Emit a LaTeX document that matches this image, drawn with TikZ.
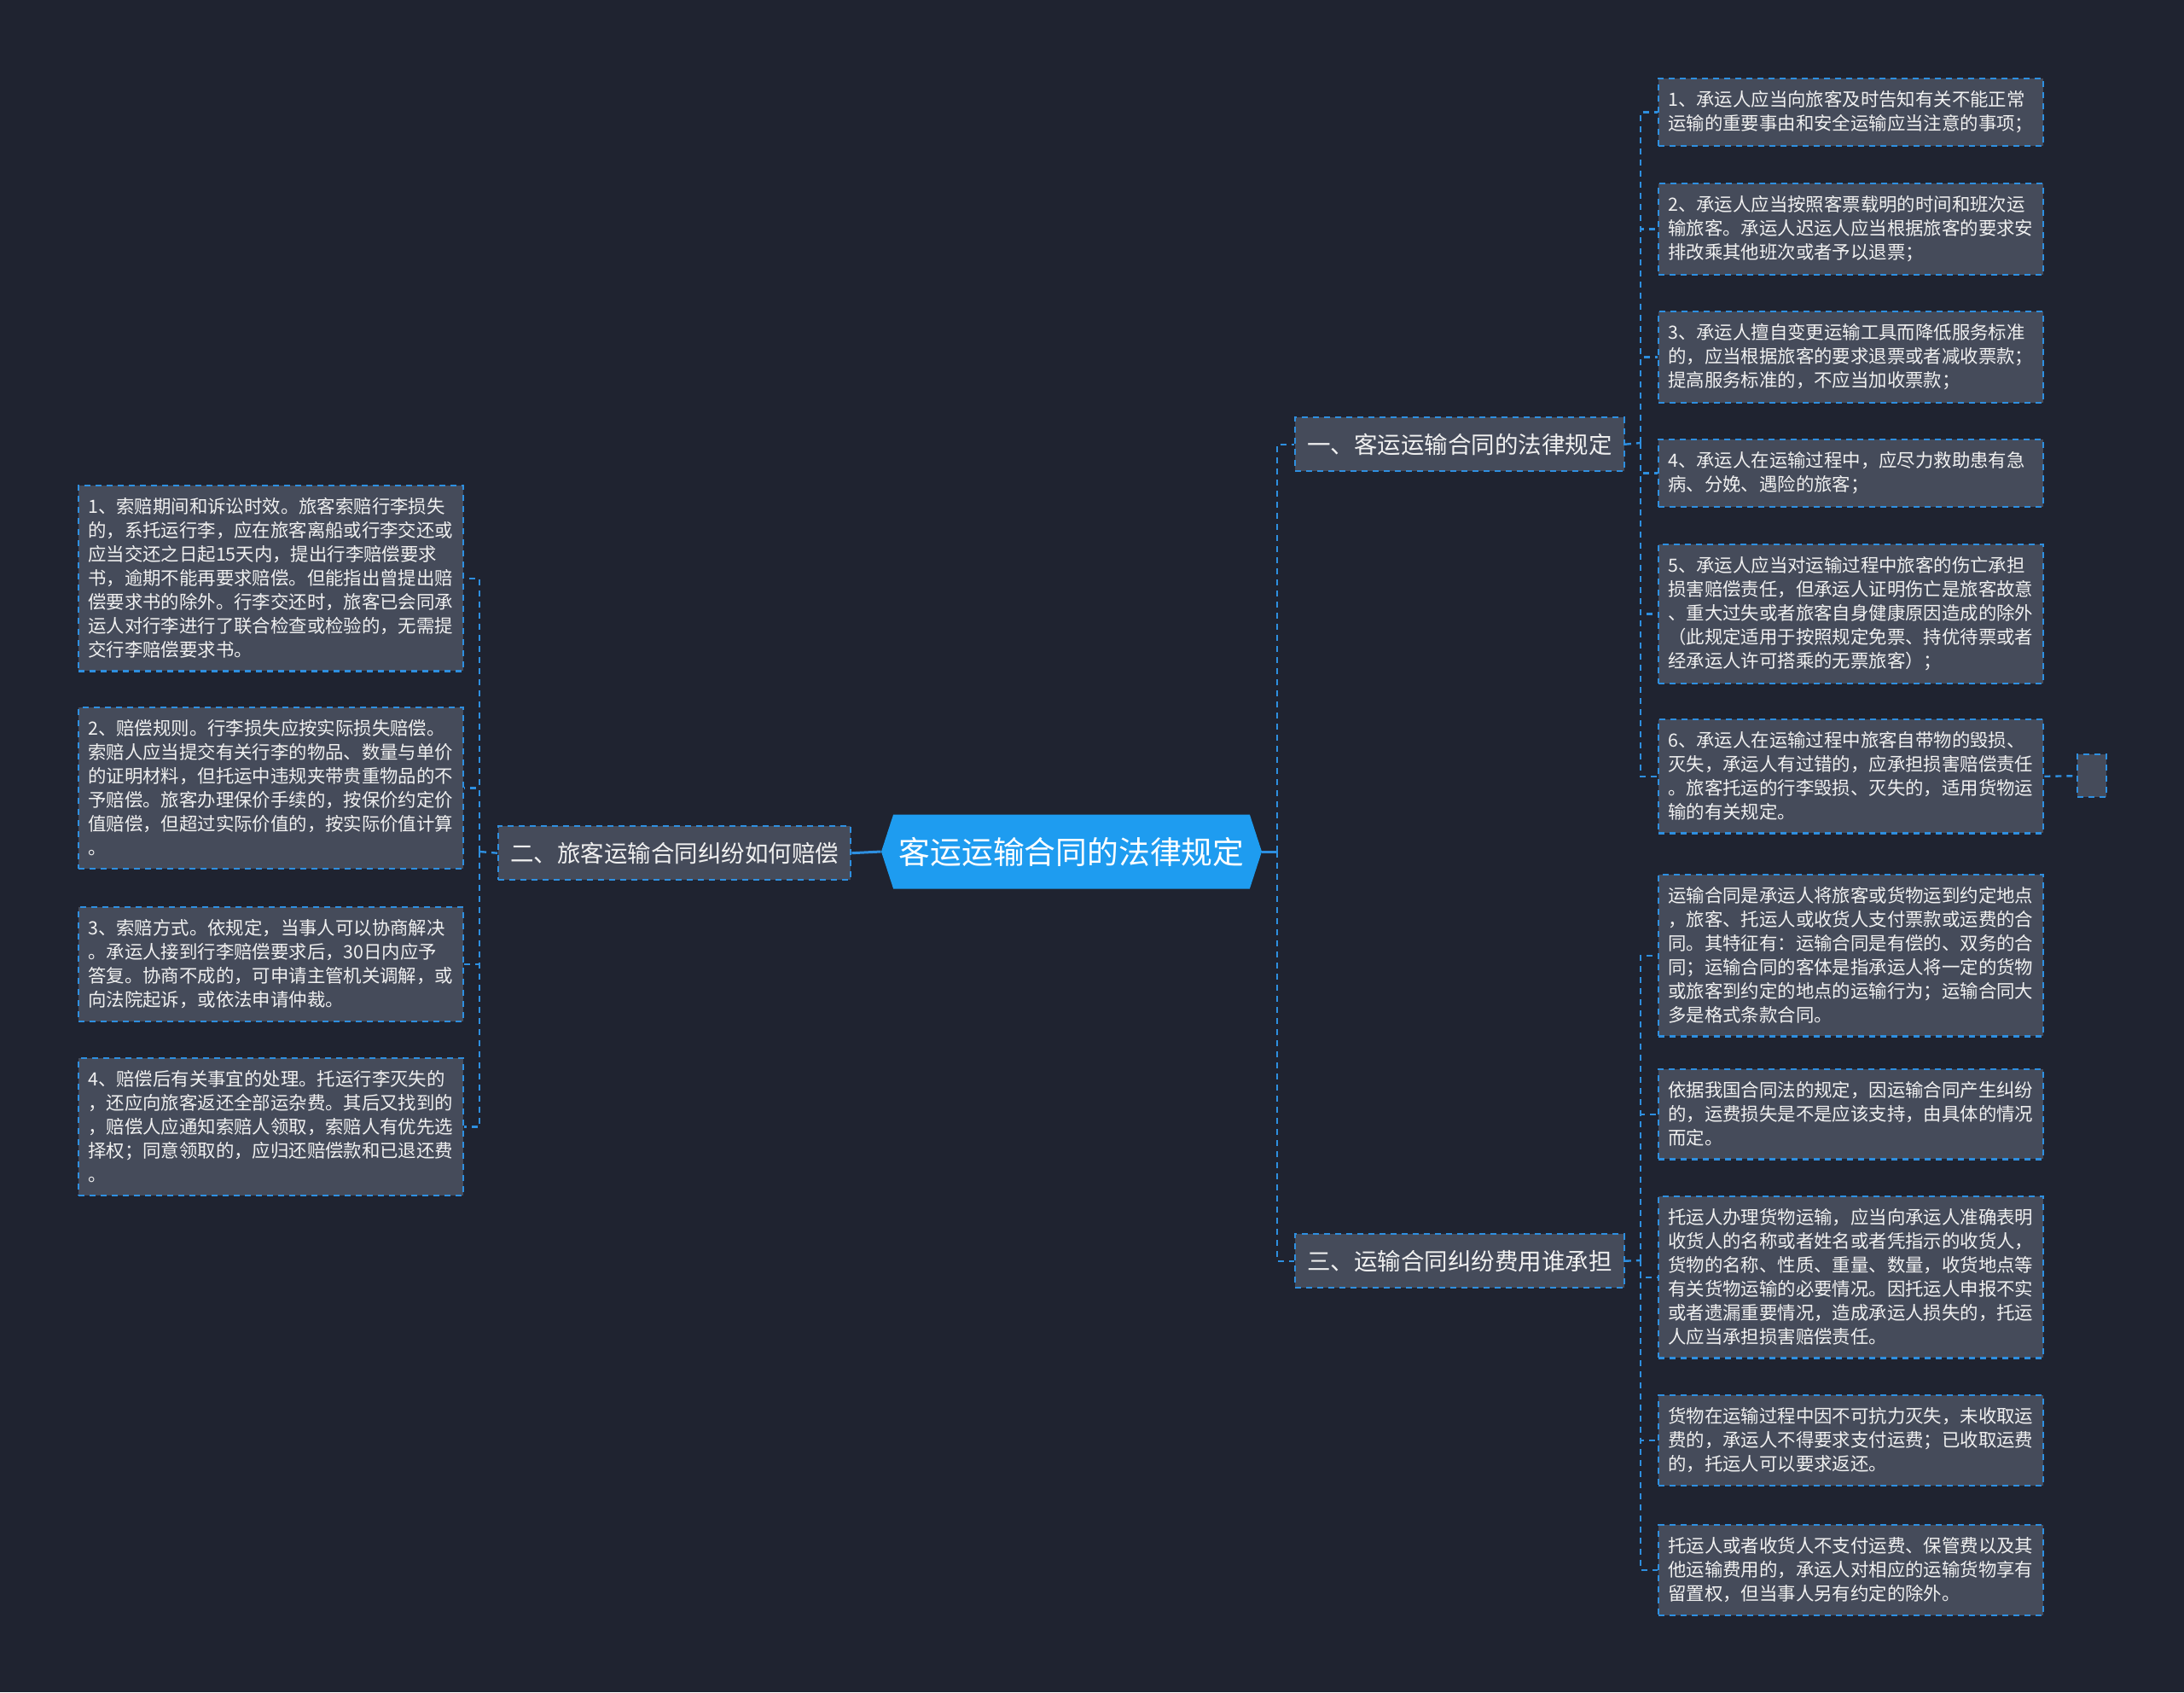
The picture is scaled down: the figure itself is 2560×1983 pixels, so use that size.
\documentclass[tikz,border=0pt]{standalone}
\usepackage{fontspec}
\newfontfamily\cjk{Noto Sans CJK SC}
\usepackage{xcolor}
\definecolor{mapbg}{HTML}{1F2330}
\definecolor{mapleaf}{HTML}{454B5A}
\definecolor{mapline}{HTML}{2E8FE0}
\definecolor{maphub}{HTML}{1E9CF0}
\definecolor{maptext}{HTML}{F0F0F0}
\usepackage{tikz}
\usetikzlibrary{shapes.symbols, positioning}

\begin{document}
\begin{tikzpicture}[x=0.5pt, y=-0.5pt,
  leaf/.style={rectangle, draw=mapline, fill=mapleaf, line width=1.2pt,
    dash pattern=on 3.5pt off 3pt, text=maptext,
    font=\cjk\fontsize{10.7pt}{14pt}\selectfont, text width=214.5pt,
    align=left, inner xsep=5.5pt, inner ysep=7.3pt, anchor=north west},
  branch/.style={rectangle, draw=mapline, fill=mapleaf, line width=1.2pt,
    dash pattern=on 3.5pt off 3pt, text=maptext,
    font=\cjk\fontsize{13.75pt}{16pt}\selectfont, minimum height=31.5pt,
    inner xsep=7pt, anchor=north west},
  hub/.style={signal, signal to=east and west, signal pointer angle=144,
    fill=maphub, text=white, font=\cjk\fontsize{18.4pt}{22pt}\selectfont,
    minimum width=223pt, minimum height=43.5pt, inner sep=0pt},
  link/.style={draw=mapline, line width=1.2pt, dash pattern=on 3.5pt off 3pt},
  trunk/.style={draw=mapline, line width=1.5pt}
]
% Background
\fill[mapbg] (0,0) rectangle (2560,1983);

% Centre
\node[hub] (hub) at (1256,998) {客运运输合同的法律规定};

% Branches
\node[branch] (b1) at (1517,488)  {一、客运运输合同的法律规定};
\node[branch] (b2) at (583,967)   {二、旅客运输合同纠纷如何赔偿};
\node[branch] (b3) at (1517,1445) {三、运输合同纠纷费用谁承担};

% Right, branch one
\node[leaf] (r1) at (1943,91)  {1、承运人应当向旅客及时告知有关不能正常\\运输的重要事由和安全运输应当注意的事项；};
\node[leaf] (r2) at (1943,214) {2、承运人应当按照客票载明的时间和班次运\\输旅客。承运人迟运人应当根据旅客的要求安\\排改乘其他班次或者予以退票；};
\node[leaf] (r3) at (1943,364) {3、承运人擅自变更运输工具而降低服务标准\\的，应当根据旅客的要求退票或者减收票款；\\提高服务标准的，不应当加收票款；};
\node[leaf] (r4) at (1943,514) {4、承运人在运输过程中，应尽力救助患有急\\病、分娩、遇险的旅客；};
\node[leaf] (r5) at (1943,637) {5、承运人应当对运输过程中旅客的伤亡承担\\损害赔偿责任，但承运人证明伤亡是旅客故意\\、重大过失或者旅客自身健康原因造成的除外\\（此规定适用于按照规定免票、持优待票或者\\经承运人许可搭乘的无票旅客）；};
\node[leaf] (r6) at (1943,842) {6、承运人在运输过程中旅客自带物的毁损、\\灭失，承运人有过错的，应承担损害赔偿责任\\。旅客托运的行李毁损、灭失的，适用货物运\\输的有关规定。};
\node[branch, minimum width=17pt, minimum height=25pt, inner sep=0pt] (blank) at (2434,883) {};

% Right, branch three
\node[leaf] (r7)  at (1943,1024) {运输合同是承运人将旅客或货物运到约定地点\\，旅客、托运人或收货人支付票款或运费的合\\同。其特征有：运输合同是有偿的、双务的合\\同；运输合同的客体是指承运人将一定的货物\\或旅客到约定的地点的运输行为；运输合同大\\多是格式条款合同。};
\node[leaf] (r8)  at (1943,1252) {依据我国合同法的规定，因运输合同产生纠纷\\的，运费损失是不是应该支持，由具体的情况\\而定。};
\node[leaf] (r9)  at (1943,1401) {托运人办理货物运输，应当向承运人准确表明\\收货人的名称或者姓名或者凭指示的收货人，\\货物的名称、性质、重量、数量，收货地点等\\有关货物运输的必要情况。因托运人申报不实\\或者遗漏重要情况，造成承运人损失的，托运\\人应当承担损害赔偿责任。};
\node[leaf] (r10) at (1943,1634) {货物在运输过程中因不可抗力灭失，未收取运\\费的，承运人不得要求支付运费；已收取运费\\的，托运人可以要求返还。};
\node[leaf] (r11) at (1943,1786) {托运人或者收货人不支付运费、保管费以及其\\他运输费用的，承运人对相应的运输货物享有\\留置权，但当事人另有约定的除外。};

% Left, branch two
\node[leaf] (l1) at (91,568)  {1、索赔期间和诉讼时效。旅客索赔行李损失\\的，系托运行李，应在旅客离船或行李交还或\\应当交还之日起15天内，提出行李赔偿要求\\书，逾期不能再要求赔偿。但能指出曾提出赔\\偿要求书的除外。行李交还时，旅客已会同承\\运人对行李进行了联合检查或检验的，无需提\\交行李赔偿要求书。};
\node[leaf] (l2) at (91,828)  {2、赔偿规则。行李损失应按实际损失赔偿。\\索赔人应当提交有关行李的物品、数量与单价\\的证明材料，但托运中违规夹带贵重物品的不\\予赔偿。旅客办理保价手续的，按保价约定价\\值赔偿，但超过实际价值的，按实际价值计算\\。};
\node[leaf] (l3) at (91,1062) {3、索赔方式。依规定，当事人可以协商解决\\。承运人接到行李赔偿要求后，30日内应予\\答复。协商不成的，可申请主管机关调解，或\\向法院起诉，或依法申请仲裁。};
\node[leaf] (l4) at (91,1239) {4、赔偿后有关事宜的处理。托运行李灭失的\\，还应向旅客返还全部运杂费。其后又找到的\\，赔偿人应通知索赔人领取，索赔人有优先选\\择权；同意领取的，应归还赔偿款和已退还费\\。};

% Joints
\coordinate (jh) at (1497,998);
\coordinate (j1) at (1923,519);
\coordinate (j2) at (562,998);
\coordinate (j3) at (1923,1477);

% Connectors
\draw[trunk] (hub.east) -- (jh);
\draw[link] (jh) |- (b1.west);
\draw[link] (jh) |- (b3.west);
\draw[trunk] (hub.west) -- (b2.east);
\draw[link] (b2.west) -- (j2);
\foreach \i in {1,...,4} \draw[link] (j2) |- (l\i.east);
\draw[link] (b1.east) -- (j1);
\foreach \i in {1,...,6} \draw[link] (j1) |- (r\i.west);
\draw[link] (b3.east) -- (j3);
\foreach \i in {7,...,11} \draw[link] (j3) |- (r\i.west);
\draw[link] (r6.east) -- (blank.west);
\end{tikzpicture}
\end{document}
